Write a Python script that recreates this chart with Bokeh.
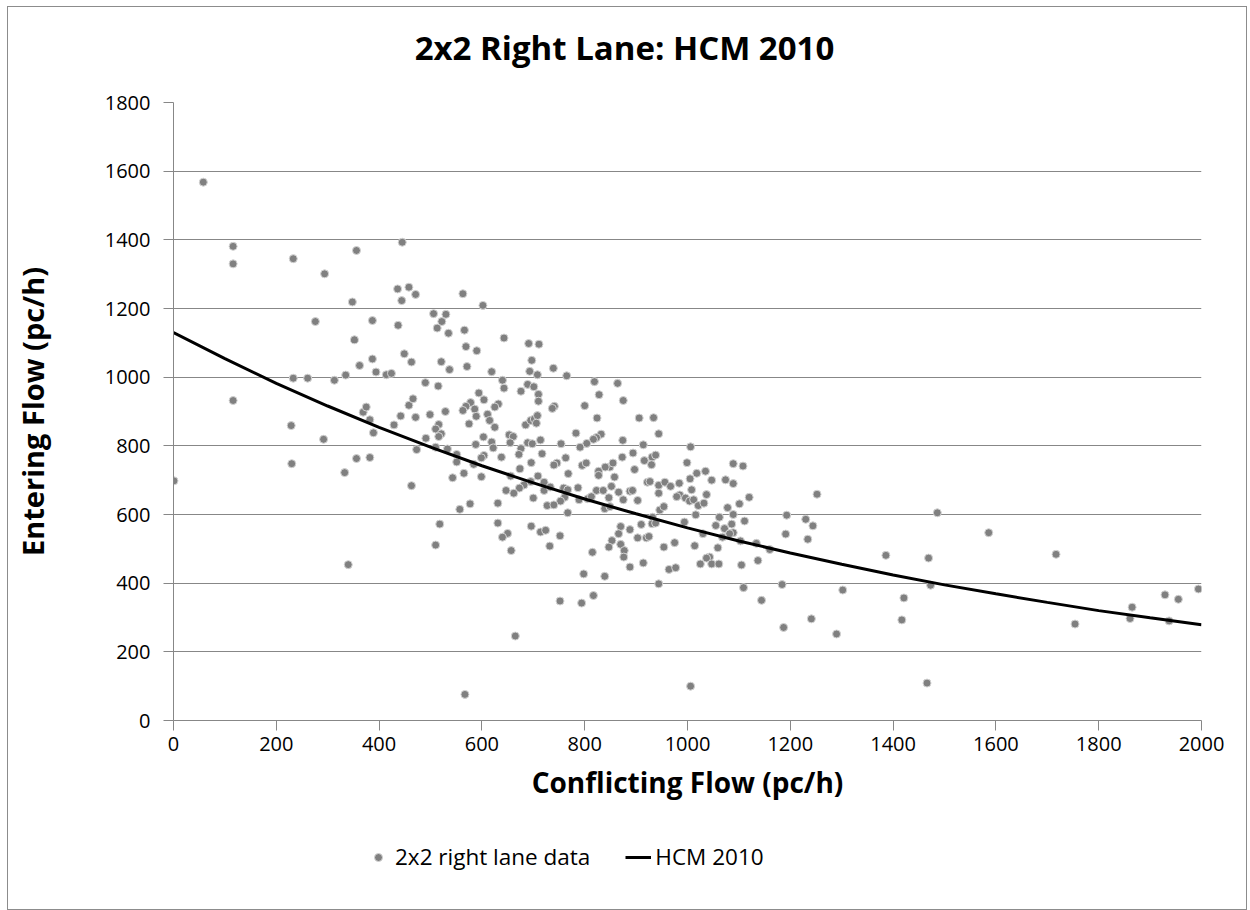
from bokeh.plotting import figure
from bokeh.layouts import column
from bokeh.models import Range1d, FixedTicker, Legend, LegendItem, Label
from bokeh.embed import file_html
from bokeh.resources import INLINE

# ---- data ----
conflicting = [
    1, 58, 116, 116, 116, 233, 229, 230, 233, 261, 276, 294, 292, 313, 333, 340, 348, 352, 356, 356,
    362, 335, 369, 375, 382, 382, 387, 387, 389, 394, 414, 424, 429, 436, 437, 442, 444, 445, 449, 458,
    458, 463, 463, 466, 471, 471, 473,
    563, 602, 506, 530, 522, 513, 535, 566, 643, 569, 590, 691, 711, 697, 521, 537, 571, 619, 693, 708,
    739, 765, 490, 515, 640, 643, 594, 604, 676, 689, 701, 710, 710, 741, 737, 578, 569, 563, 586, 589,
    632, 625, 611, 615, 625, 499, 529, 516, 510, 521, 516, 575, 685, 695, 702, 708, 706, 491, 510, 533,
    603, 588, 619, 622, 653, 661, 655, 689, 698, 714, 754, 676,
    819, 864, 828, 875, 800, 824, 906, 934, 944, 783, 832, 823, 817, 804, 791, 874, 914, 1006,
    551, 551, 584, 604, 599, 638, 672, 717, 696, 746, 740, 763, 768, 674, 656, 709, 695, 682, 673, 662,
    647, 700, 721, 721, 733, 759, 767, 761, 753, 727, 740, 767, 543, 565, 599, 631, 577, 557, 518, 510,
    631, 650, 640, 657, 696, 714, 724, 752, 732, 752, 665, 567,
    795, 803, 787, 789, 806, 813, 823, 836, 847, 839, 849, 852, 858, 849, 840, 827, 827, 855, 873, 894,
    897, 866, 875, 888, 893, 903, 916, 931, 938, 930, 922, 927, 944, 944, 956, 967, 984, 999, 1005, 1018,
    1035, 1047, 985, 979, 996, 1004, 1012, 1008, 1021, 1032, 1037, 1016, 946, 954, 932, 931, 938, 910, 994, 1030,
    1055, 1062, 870, 866, 853, 847, 870, 877, 876, 888, 903, 920, 925, 954, 975, 1014, 1059, 1043, 1037, 1025,
    1047, 1061, 914, 888, 964, 977, 815, 798, 839, 944, 817, 794, 1006,
    1089, 1108, 1074, 1089, 1120, 1252,
    1078, 1101, 1089, 1111, 1086, 1072, 1089, 1082, 1068, 1103, 1134, 1160, 1105, 1137, 1193, 1230, 1244, 1191,
    1234, 1109, 1184, 1302, 1144, 1241, 1187, 1290,
    1386, 1486, 1469, 1473, 1421, 1417, 1466, 1586, 1717, 1754, 1865, 1861, 1929, 1955, 1937, 1994,
]
entering = [
    698, 1568, 1381, 1330, 932, 1345, 859, 748, 997, 997, 1162, 1301, 819, 991, 722, 454, 1219, 1109, 1369, 763,
    1034, 1006, 898, 913, 876, 766, 1165, 1053, 838, 1015, 1007, 1011, 861, 1257, 1151, 887, 1223, 1393, 1068, 1262,
    918, 1044, 684, 937, 1241, 883, 789,
    1243, 1209, 1185, 1183, 1162, 1143, 1128, 1137, 1114, 1089, 1077, 1098, 1096, 1049, 1045, 1022, 1031, 1016, 1017, 1007,
    1026, 1004, 984, 974, 991, 968, 954, 934, 959, 979, 972, 950, 930, 915, 909, 926, 915, 903, 907, 886,
    922, 913, 892, 874, 854, 891, 900, 862, 849, 835, 827, 864, 861, 874, 878, 888, 866, 822, 796, 791,
    826, 804, 811, 794, 832, 827, 809, 809, 806, 817, 806, 792,
    987, 982, 949, 932, 917, 881, 881, 882, 835, 837, 834, 824, 819, 807, 796, 816, 803, 797,
    775, 753, 746, 772, 765, 767, 775, 777, 751, 750, 744, 765, 719, 733, 712, 712, 696, 686, 677, 662,
    670, 648, 694, 670, 680, 677, 672, 650, 639, 626, 628, 605, 707, 720, 710, 633, 631, 615, 572, 511,
    575, 545, 534, 495, 566, 549, 554, 538, 508, 348, 246, 76,
    743, 750, 678, 643, 646, 652, 670, 670, 649, 617, 623, 682, 709, 738, 738, 726, 714, 750, 767, 779,
    731, 665, 643, 668, 670, 641, 757, 767, 773, 745, 694, 696, 685, 662, 694, 682, 691, 751, 704, 720,
    726, 700, 657, 652, 648, 639, 643, 672, 626, 633, 658, 599, 613, 623, 592, 573, 575, 571, 578, 544,
    568, 592, 565, 544, 524, 505, 513, 495, 476, 556, 532, 532, 536, 505, 518, 509, 503, 476, 473, 456,
    456, 456, 459, 447, 440, 445, 490, 427, 420, 398, 364, 342, 100,
    748, 741, 701, 690, 650, 659,
    620, 631, 600, 581, 572, 559, 547, 544, 534, 523, 516, 498, 453, 466, 598, 586, 567, 543,
    528, 387, 396, 380, 350, 296, 271, 252,
    481, 605, 473, 394, 357, 293, 109, 547, 484, 281, 330, 297, 366, 353, 290, 383,
]
hcm_x = [0, 100, 200, 300, 400, 500, 600, 700, 800, 900, 1000,
         1100, 1200, 1300, 1400, 1500, 1600, 1700, 1800, 1900, 2000]
hcm_y = [1130, 1054, 982, 916, 854, 796, 742, 692, 645, 602, 561,
         523, 488, 455, 424, 395, 369, 344, 320, 299, 279]
x_ticks = [0, 200, 400, 600, 800, 1000, 1200, 1400, 1600, 1800, 2000]
y_ticks = [0, 200, 400, 600, 800, 1000, 1200, 1400, 1600, 1800]

title_text = "2x2 Right Lane: HCM 2010"
series_names = ["2x2 right lane data", "HCM 2010"]

FONT = "Open Sans"
GRID = "#878787"
W = 1238
MARK = dict(size=8, marker="circle", fill_color="#808080", line_color="#d4d4d4", line_width=1)
LINE = dict(line_color="black", line_width=3)

# ---------- title strip (frame aligned with the main plot's frame) ----------
TH = 80
pt = figure(width=W, height=TH, x_axis_type=None, y_axis_type=None,
            output_backend="svg", toolbar_location=None, min_border=0)
pt.outline_line_color = None
pt.grid.visible = False
pt.add_layout(Label(x=451, y=TH / 2, x_units="screen", y_units="screen", text=title_text,
                    text_align="center", text_baseline="middle", text_font=FONT,
                    text_font_size="33px", text_font_style="bold", text_color="black"))

# ---------- main plot ----------
p = figure(
    width=W, height=733,
    x_range=Range1d(0, 2000), y_range=Range1d(0, 1800),
    output_backend="svg", toolbar_location=None,
    min_border_left=165, min_border_top=15, min_border_right=45, min_border_bottom=100,
)
p.outline_line_color = None

p.xgrid.grid_line_color = None
p.ygrid.grid_line_color = GRID
p.ygrid.grid_line_width = 1
p.ygrid.ticker = FixedTicker(ticks=y_ticks)

xa = p.xaxis[0]
ya = p.yaxis[0]
for ax in (xa, ya):
    ax.axis_line_color = GRID
    ax.axis_line_width = 1
    ax.major_tick_line_color = GRID
    ax.major_tick_in = 0
    ax.major_tick_out = 10
    ax.minor_tick_line_color = None
    ax.major_label_text_font = FONT
    ax.major_label_text_font_size = "20px"
    ax.major_label_text_color = "black"
    ax.axis_label_text_font = FONT
    ax.axis_label_text_font_style = "bold"
    ax.axis_label_text_color = "black"

xa.ticker = FixedTicker(ticks=x_ticks)
ya.ticker = FixedTicker(ticks=y_ticks)
xa.axis_label = "Conflicting Flow (pc/h)"
ya.axis_label = "Entering Flow (pc/h)"
xa.axis_label_text_font_size = "28px"
ya.axis_label_text_font_size = "29px"
xa.major_label_standoff = 6
xa.axis_label_standoff = 9
ya.major_label_standoff = 13
ya.axis_label_standoff = 50

sc = p.scatter(conflicting, entering, **MARK)
ln = p.line(hcm_x, hcm_y, **LINE)

# ---------- legend strip (frame aligned with the main plot's frame) ----------
LH = 902 - TH - 733
pl = figure(width=W, height=LH, x_axis_type=None, y_axis_type=None,
            output_backend="svg", toolbar_location=None, min_border=0)
pl.outline_line_color = None
pl.grid.visible = False
lsc = pl.scatter(conflicting, entering, visible=False, **MARK)
lln = pl.line(hcm_x, hcm_y, visible=False, **LINE)
legend = Legend(
    items=[LegendItem(label=series_names[0], renderers=[lsc]),
           LegendItem(label=series_names[1], renderers=[lln])],
    orientation="horizontal", location=(192, 37),
    label_text_font=FONT, label_text_font_size="22.5px", label_text_color="black",
    glyph_width=26, label_standoff=4, spacing=35,
    border_line_color=None, background_fill_alpha=0,
    inactive_fill_alpha=0,
    margin=0, padding=0,
)
pl.add_layout(legend, "center")

layout = column(pt, p, pl, spacing=0)
layout.styles = {"border": "1px solid #8c8c8c", "margin-left": "7px", "margin-top": "6px"}

open("out.html", "w").write(file_html(layout, INLINE))
